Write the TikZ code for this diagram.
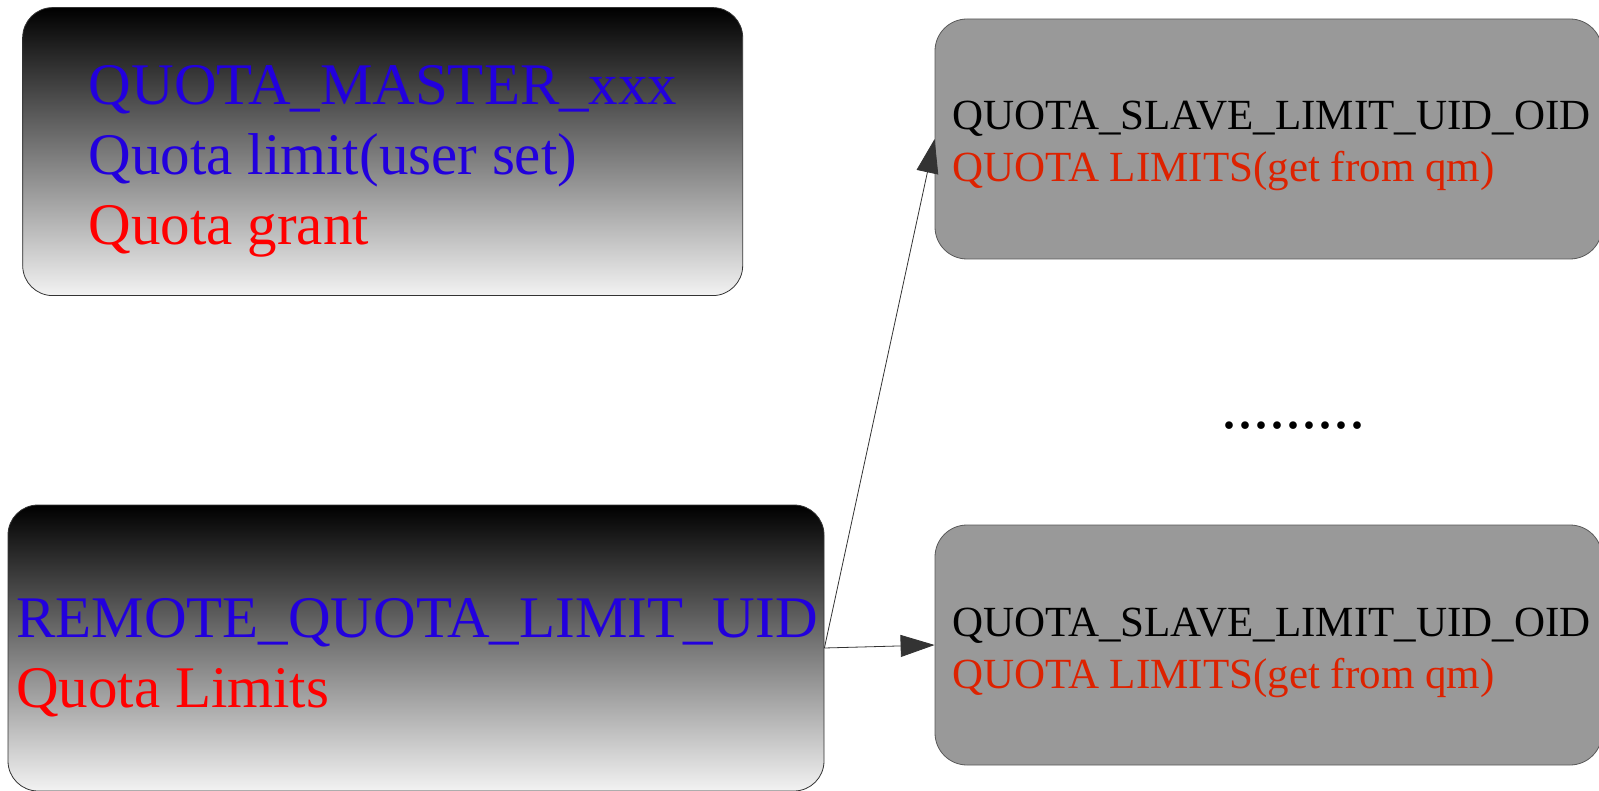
\documentclass[tikz,border=0pt]{standalone}
\usepackage{fontspec}
\setmainfont{Liberation Serif}
\usetikzlibrary{arrows.meta}
\definecolor{keyblue}{RGB}{34,0,221}
\definecolor{keyred}{RGB}{255,0,0}
\definecolor{limred}{RGB}{221,34,0}
\definecolor{slavegray}{RGB}{153,153,153}
\definecolor{edgegray}{RGB}{51,51,51}
\tikzset{
  gradbox/.style={draw=edgegray, line width=0.8pt, rounded corners=30pt,
    top color=black, bottom color=black!5, inner sep=0pt},
  slavebox/.style={draw=black!65, line width=0.8pt, rounded corners=32pt,
    fill=slavegray, inner sep=0pt},
  bigtext/.style={anchor=base west, inner sep=0pt, font=\fontsize{59}{70}\selectfont},
  smalltext/.style={anchor=base west, inner sep=0pt, font=\fontsize{43}{52}\selectfont},
  link/.style={draw=edgegray, line width=0.8pt, -{Triangle[length=34pt,width=22pt]}},
}
\begin{document}
\begin{tikzpicture}[x=1pt,y=-1pt]
\useasboundingbox (0,0) rectangle (1599,791);
\clip (0,0) rectangle (1599,791);

% quota master record
\node[gradbox, minimum width=720pt, minimum height=288pt] (master) at (382.7,151.6) {};
\node[bigtext, text=keyblue] (m1) at (88.7,105) {QUOTA\_MASTER\_xxx};
\node[bigtext, text=keyblue] (m2) at (88.7,175) {Quota limit(user set)};
\node[bigtext, text=keyred]  (m3) at (88.7,245) {Quota grant};

% remote quota limit record
\node[gradbox, minimum width=816pt, minimum height=286pt] (remote) at (416,648) {};
\node[bigtext, text=keyblue] (r1) at (16,637) {REMOTE\_QUOTA\_LIMIT\_UID};
\node[bigtext, text=keyred]  (r2) at (16,707) {Quota Limits};

% slave limit records
\node[slavebox, minimum width=667pt, minimum height=240pt] (slave1) at (1268.5,139) {};
\node[smalltext] (s1a) at (952,130) {QUOTA\_SLAVE\_LIMIT\_UID\_OID};
\node[smalltext, text=limred] (s1b) at (952,182) {QUOTA LIMITS(get from qm)};

\node[slavebox, minimum width=667pt, minimum height=240pt] (slave2) at (1268.5,645) {};
\node[smalltext] (s2a) at (952,636) {QUOTA\_SLAVE\_LIMIT\_UID\_OID};
\node[smalltext, text=limred] (s2b) at (952,688) {QUOTA LIMITS(get from qm)};

% ellipsis between the slave records
\node[anchor=base west, inner sep=0pt, font=\fontsize{64}{70}\selectfont] (dots) at (1221,429) {.........};

% links
\draw[link] (remote.east) -- (slave1.west);
\draw[link] (remote.east) -- (slave2.west);
\end{tikzpicture}
\end{document}
